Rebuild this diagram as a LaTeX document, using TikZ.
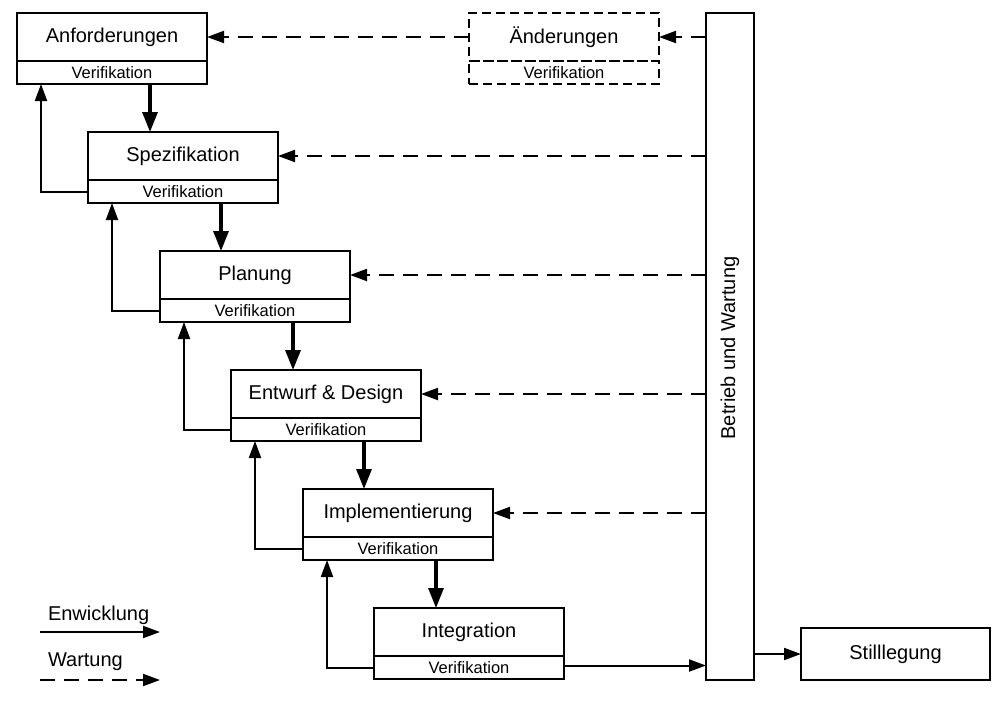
\documentclass[tikz,border=0pt]{standalone}
\usepackage{fontspec}
\setmainfont{Liberation Sans}
\usetikzlibrary{arrows.meta,calc}
\tikzset{
  every node/.style={outer sep=0pt},
  stagebox/.style={draw, line width=1.2pt, minimum width=190pt, minimum height=48pt, inner sep=0pt, font=\fontsize{20}{24}\selectfont},
  verbox/.style={draw, line width=1.2pt, minimum width=190pt, minimum height=23pt, inner sep=0pt, font=\fontsize{16.5}{19}\selectfont},
  dashbox/.style={dash pattern=on 9pt off 5pt},
  devline/.style={line width=3.2pt, -{Triangle[length=20pt,width=15pt]}},
  backline/.style={line width=2pt, -{Triangle[length=17pt,width=12pt]}},
  maintline/.style={line width=2pt, dash pattern=on 15pt off 9pt, -{Triangle[length=17pt,width=12pt]}},
  bigtext/.style={font=\fontsize{20}{24}\selectfont, inner sep=0pt}
}
\begin{document}
\begin{tikzpicture}[x=1pt,y=-1pt]
\useasboundingbox (0,0) rectangle (1001,702);
% stages
\node[stagebox] (anf) at (112,37) {Anforderungen};
\node[verbox, anchor=north] (anfv) at (anf.south) {Verifikation};
\node[stagebox] (spez) at (183,156) {Spezifikation};
\node[verbox, anchor=north] (spezv) at (spez.south) {Verifikation};
\node[stagebox] (plan) at (255,275) {Planung};
\node[verbox, anchor=north] (planv) at (plan.south) {Verifikation};
\node[stagebox] (entw) at (326,394) {Entwurf \& Design};
\node[verbox, anchor=north] (entwv) at (entw.south) {Verifikation};
\node[stagebox] (impl) at (398,513) {Implementierung};
\node[verbox, anchor=north] (implv) at (impl.south) {Verifikation};
\node[stagebox] (intg) at (469,632) {Integration};
\node[verbox, anchor=north] (intgv) at (intg.south) {Verifikation};
% changes (dashed)
\node[stagebox, dashbox] (aend) at (564,37) {Änderungen};
\node[verbox, dashbox, anchor=north] (aendv) at (aend.south) {Verifikation};
% operation
\node[draw, line width=1.2pt, minimum width=48pt, minimum height=667pt, inner sep=0pt] (bw) at (730,346.5) {};
\node[bigtext, rotate=90] (bwt) at (730,348) {Betrieb und Wartung};
\node[draw, line width=1.2pt, minimum width=189pt, minimum height=52pt, inner sep=0pt, font=\fontsize{20}{24}\selectfont] (still) at (895.5,654) {Stilllegung};
% development arrows
\draw[devline] ($(anfv.south)+(38,0)$) coordinate (d1) -- (d1 |- spez.north);
\draw[devline] ($(spezv.south)+(38,0)$) coordinate (d2) -- (d2 |- plan.north);
\draw[devline] ($(planv.south)+(38,0)$) coordinate (d3) -- (d3 |- entw.north);
\draw[devline] ($(entwv.south)+(38,0)$) coordinate (d4) -- (d4 |- impl.north);
\draw[devline] ($(implv.south)+(38,0)$) coordinate (d5) -- (d5 |- intg.north);
% back arrows
\draw[backline] (spezv.west) -| ($(anfv.south west)+(24,0)$);
\draw[backline] (planv.west) -| ($(spezv.south west)+(24,0)$);
\draw[backline] (entwv.west) -| ($(planv.south west)+(24,0)$);
\draw[backline] (implv.west) -| ($(entwv.south west)+(24,0)$);
\draw[backline] (intgv.west) -| ($(implv.south west)+(24,0)$);
% maintenance arrows
\draw[maintline] (aend.east -| bw.west) -- (aend.east);
\draw[maintline] (aend.west) -- (anf.east);
\draw[maintline] (spez.east -| bw.west) -- (spez.east);
\draw[maintline] (plan.east -| bw.west) -- (plan.east);
\draw[maintline] (entw.east -| bw.west) -- (entw.east);
\draw[maintline] (impl.east -| bw.west) -- (impl.east);
% to operation and retirement
\draw[backline] ($(intgv.east)+(0,-2)$) coordinate (o1) -- (o1 -| bw.west);
\draw[backline] (still.west -| bw.east) -- (still.west);
% legend
\node[bigtext, anchor=west] (lgd1) at (48,615) {Enwicklung};
\coordinate (l1a) at (40,632);
\coordinate (l1b) at (160,632);
\draw[backline] (l1a) -- (l1b);
\node[bigtext, anchor=west] (lgd2) at (48,662) {Wartung};
\coordinate (l2a) at (40,680);
\coordinate (l2b) at (160,680);
\draw[maintline] (l2a) -- (l2b);
\end{tikzpicture}
\end{document}
